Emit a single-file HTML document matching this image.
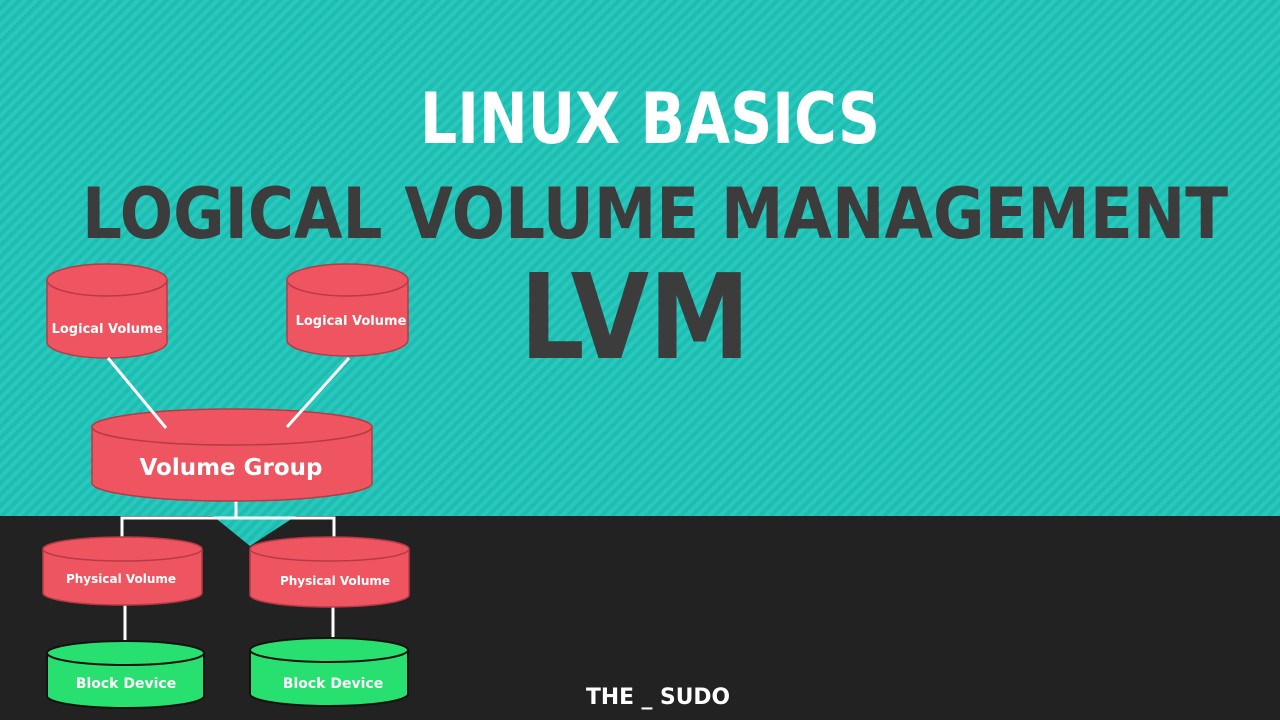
<!DOCTYPE html>
<html><head><meta charset="utf-8"><style>
html,body{margin:0;padding:0;width:1280px;height:720px;overflow:hidden;background:#222}
svg{display:block}
text{font-family:"DejaVu Sans","Liberation Sans",sans-serif;font-weight:bold}
</style></head><body>
<svg width="1280" height="720" viewBox="0 0 1280 720">
<defs>
<pattern id="st" width="8" height="8" patternUnits="userSpaceOnUse" patternTransform="rotate(45)">
<rect width="8" height="8" fill="#1dbdb2"/><rect width="4" height="8" fill="#2ac7bc"/>
</pattern>
</defs>
<rect width="1280" height="516" fill="url(#st)"/>
<rect y="516" width="1280" height="204" fill="#222"/>
<polygon points="213,516 296,516 250,546" fill="url(#st)"/>

<text x="650" y="143" text-anchor="middle" fill="#fff" font-size="70" textLength="460" lengthAdjust="spacingAndGlyphs">LINUX BASICS</text>
<text x="655" y="238" text-anchor="middle" fill="#3c3c3c" font-size="70" textLength="1146" lengthAdjust="spacingAndGlyphs">LOGICAL VOLUME MANAGEMENT</text>
<text x="635" y="358" text-anchor="middle" fill="#3c3c3c" font-size="118" textLength="230" lengthAdjust="spacingAndGlyphs">LVM</text>

<g stroke="#fff" stroke-width="3" fill="none">
<polyline points="236,500 236,518"/>
<polyline points="122,537 122,518 334,518 334,537"/>
<line x1="125" y1="605" x2="125" y2="641"/>
<line x1="333" y1="607" x2="333" y2="638"/>
</g>

<g stroke="#b83a45" stroke-width="1.5" fill="#ee5560">
<path d="M47,280 v62 a60,16 0 0 0 120,0 v-62"/><ellipse cx="107" cy="280" rx="60" ry="16"/>
<path d="M287,280 v60 a60.5,16 0 0 0 121,0 v-60"/><ellipse cx="347.5" cy="280" rx="60.5" ry="16"/>
<path d="M92,427 v56 a140,18 0 0 0 280,0 v-56"/><ellipse cx="232" cy="427" rx="140" ry="18"/>
<path d="M43,549 v44 a79.5,12 0 0 0 159,0 v-44"/><ellipse cx="122.5" cy="549" rx="79.5" ry="12"/>
<path d="M250,549 v46 a79.5,12 0 0 0 159,0 v-46"/><ellipse cx="329.5" cy="549" rx="79.5" ry="12"/>
</g>
<g stroke="#fff" stroke-width="3">
<line x1="108" y1="358" x2="166" y2="428"/>
<line x1="349" y1="358" x2="287" y2="427"/>
</g>
<g stroke="#111" stroke-width="2" fill="#27e06f">
<path d="M47,653 v43 a78.5,12 0 0 0 157,0 v-43"/><ellipse cx="125.5" cy="653" rx="78.5" ry="12"/>
<path d="M250,650 v44 a79,12 0 0 0 158,0 v-44"/><ellipse cx="329" cy="650" rx="79" ry="12"/>
</g>

<g fill="#fff" text-anchor="middle">
<text x="107" y="333" font-size="13">Logical Volume</text>
<text x="351" y="325" font-size="13">Logical Volume</text>
<text x="231" y="475" font-size="23">Volume Group</text>
<text x="121" y="583" font-size="12">Physical Volume</text>
<text x="335" y="585" font-size="12">Physical Volume</text>
<text x="126" y="688" font-size="14">Block Device</text>
<text x="333" y="688" font-size="14">Block Device</text>
<text x="658" y="704" font-size="22" textLength="144" lengthAdjust="spacingAndGlyphs">THE _ SUDO</text>
</g>
</svg>
</body></html>
